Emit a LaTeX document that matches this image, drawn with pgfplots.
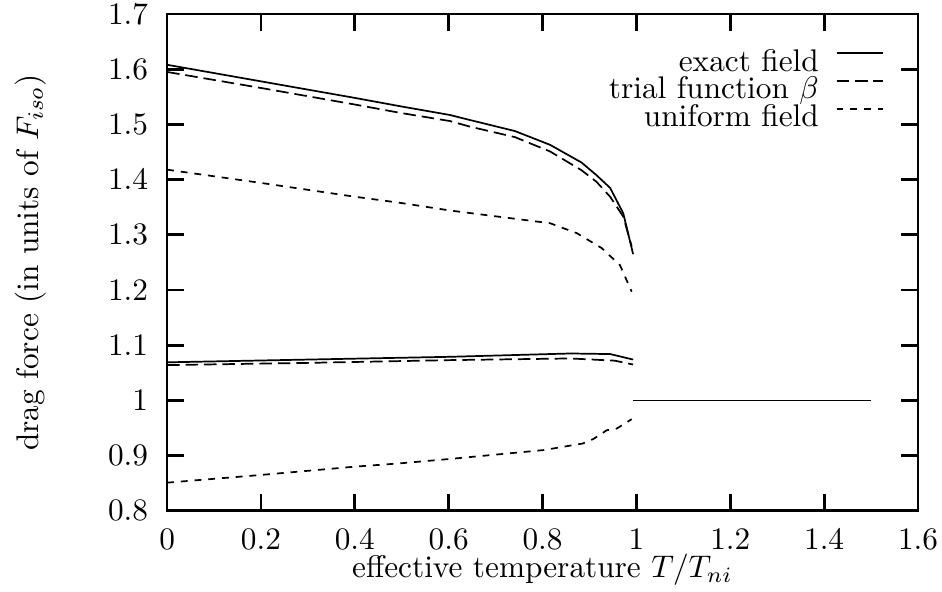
\documentclass[border=0pt]{standalone}
\usepackage{pgfplots}
\pgfplotsset{compat=1.18}
\begin{document}
\begin{tikzpicture}
\begin{axis}[
    scale only axis,
    width=240pt, height=158.8pt,
    xmin=0, xmax=1.6, ymin=0.8, ymax=1.7,
    xtick={0,0.2,0.4,0.6,0.8,1,1.2,1.4,1.6},
    ytick={0.8,0.9,1,1.1,1.2,1.3,1.4,1.5,1.6,1.7},
    tick align=inside,
    major tick length=5.4pt,
    every tick/.style={black, line width=0.9pt},
    axis line style={line width=0.9pt},
    xticklabel style={anchor=north, inner sep=0pt, yshift=-5.6pt},
    yticklabel style={anchor=east, inner sep=0pt, xshift=-5.9pt},
    xlabel={effective temperature $T/T_{ni}$},
    ylabel={drag force (in units of $F_{iso}$)},
    xlabel style={at={(axis description cs:0.5,0)}, anchor=north, inner sep=0pt, yshift=-13.6pt},
    ylabel style={at={(axis description cs:-0.182,0.5)}, anchor=center, inner sep=0pt},
    legend plot pos=right,
    legend cell align=right,
    legend style={draw=none, fill=none, inner sep=0pt,
      at={(0.956,0.93)}, anchor=north east,
      row sep=0pt, column sep=0pt,
      nodes={inner sep=0pt, text height=6.95pt, text depth=1.95pt}},
    legend image code/.code={\path (0pt,0pt); \draw[#1] (5.4pt,3.2pt) -- (20.4pt,3.2pt);},
]
% upper branch
\addplot[black, line width=0.55pt] coordinates {
 (0,1.608) (0.2,1.578) (0.4,1.548) (0.496,1.533) (0.603,1.517) (0.645,1.508)
 (0.741,1.488) (0.816,1.463) (0.883,1.431) (0.915,1.408) (0.944,1.385)
 (0.972,1.339) (0.993,1.265)
};
\addlegendentry{exact field}
\addplot[black, line width=0.55pt, dash pattern=on 4pt off 1.9pt] coordinates {
 (0,1.595) (0.2,1.566) (0.4,1.536) (0.496,1.521) (0.603,1.506) (0.645,1.496)
 (0.741,1.477) (0.816,1.451) (0.883,1.417) (0.915,1.396) (0.944,1.369)
 (0.972,1.333) (0.99,1.279)
};
\addlegendentry{trial function $\beta$}
\addplot[black, line width=0.55pt, dash pattern=on 2.2pt off 2.2pt] coordinates {
 (0,1.418) (0.2,1.394) (0.4,1.369) (0.496,1.358) (0.603,1.344) (0.816,1.321)
 (0.873,1.303) (0.926,1.276) (0.965,1.245) (0.99,1.197)
};
\addlegendentry{uniform field}
% lower branch
\addplot[black, line width=0.55pt, forget plot] coordinates {
 (0,1.069) (0.3,1.074) (0.603,1.079) (0.859,1.085) (0.944,1.084) (0.993,1.074)
};
\addplot[black, line width=0.55pt, dash pattern=on 4pt off 1.9pt, forget plot] coordinates {
 (0,1.064) (0.3,1.068) (0.603,1.073) (0.859,1.076) (0.954,1.072) (0.993,1.065)
};
\addplot[black, line width=0.55pt, dash pattern=on 2.2pt off 2.2pt, forget plot] coordinates {
 (0,0.851) (0.2,0.865) (0.4,0.880) (0.496,0.886) (0.603,0.894) (0.802,0.910)
 (0.886,0.922) (0.908,0.930) (0.937,0.946) (0.958,0.949) (0.99,0.966)
};
% isotropic phase
\addplot[black, line width=0.55pt, forget plot] coordinates {
 (0.993,1.0) (1.5,1.0)
};
\end{axis}
\pgfresetboundingbox
\path ([xshift=-53.4pt,yshift=-25.9pt]current axis.south west)
  rectangle ([xshift=7.67pt,yshift=4.47pt]current axis.north east);
\end{tikzpicture}
\end{document}
